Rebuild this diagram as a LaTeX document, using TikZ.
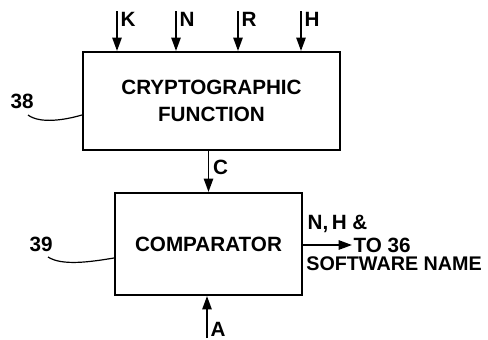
\documentclass[tikz,border=0pt]{standalone}
\usepackage{fontspec}
\setmainfont{Liberation Sans}
\usetikzlibrary{arrows.meta,calc}
\newcommand{\lw}{1.6pt}
\tikzset{
  pbox/.style   ={draw=black,line width=\lw,inner sep=0pt,align=center,
                  font=\fontsize{15.5}{20}\selectfont\bfseries},
  parr/.style   ={line width=1.3pt,-{Triangle[length=10pt,width=7pt]}},
  plab/.style   ={inner sep=1pt,font=\fontsize{15.5}{17}\selectfont\bfseries},
  lead/.style   ={line width=0.9pt},
}
\begin{document}
\begin{tikzpicture}[x=0.75pt,y=-0.75pt]
  \useasboundingbox (0,0) rectangle (488,339);
  % blocks
  \node[pbox,minimum width=257*0.75pt,minimum height=98*0.75pt] (crypt) at (211.5,101)
    {CRYPTOGRAPHIC\\FUNCTION};
  \node[pbox,minimum width=187*0.75pt,minimum height=102*0.75pt] (comp) at (208.5,244)
    {COMPARATOR};
  % inputs to the cryptographic function
  \foreach \nm/\xx in {K/117,N/176,R/238,H/301}{
    \coordinate (in\nm) at (\xx,11);
    \draw[parr] (in\nm) -- (in\nm |- crypt.north);
    \node[plab,anchor=north west] (l\nm) at ($(in\nm)+(2,0)$) {\nm};
  }
  % C and A
  \coordinate (cmpC) at (comp.north |- crypt.south);
  \draw[parr] (cmpC) -- (comp.north);
  \node[plab,anchor=west] (lC) at ($(cmpC)!0.4!(comp.north)+(3,0)$) {C};
  \coordinate (inA) at (207,338);
  \draw[parr] (inA) -- (inA |- comp.south);
  \node[plab,anchor=south west] (lA) at ($(inA)+(2,0)$) {A};
  % output
  \coordinate (outE) at (352,245);
  \draw[parr] (comp.east |- outE) -- (outE);
  \node[plab,anchor=west] (lTo) at (outE) {TO 36};
  \node[plab,anchor=south west] (lNH) at ($(comp.east |- outE)+(3,-11)$) {N,\,H \&};
  \node[plab,anchor=north west,inner sep=0pt,font=\fontsize{14.8}{17}\selectfont\bfseries]
    (lSw) at ($(comp.east |- outE)+(3,11)$) {SOFTWARE NAME};
  % reference numerals
  \node[plab,anchor=south west] (n38) at (9,110) {38};
  \draw[lead] (28,115) .. controls (40,124) and (65,120) .. (crypt.west |- 0,115);
  \node[plab,anchor=south west] (n39) at (28,253) {39};
  \draw[lead] (48,257) .. controls (62,266) and (90,262) .. (comp.west |- 0,258);
\end{tikzpicture}
\end{document}
